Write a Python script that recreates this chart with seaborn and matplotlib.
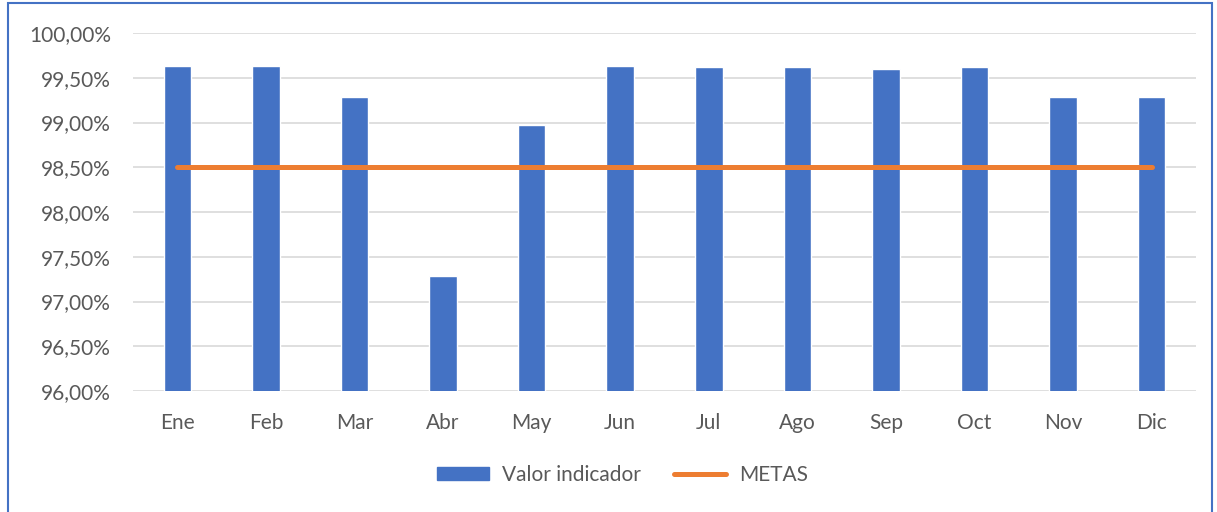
import numpy as np
import pandas as pd
import seaborn as sns
import matplotlib.pyplot as plt
from matplotlib.ticker import FuncFormatter
from matplotlib.patches import Rectangle
from matplotlib.lines import Line2D

months = ['Ene', 'Feb', 'Mar', 'Abr', 'May', 'Jun', 'Jul', 'Ago', 'Sep', 'Oct', 'Nov', 'Dic']
valor = [99.63, 99.63, 99.28, 97.29, 98.97, 99.63, 99.62, 99.62, 99.60, 99.62, 99.28, 99.285]
metas = [98.5] * 12
yticks = [96.0, 96.5, 97.0, 97.5, 98.0, 98.5, 99.0, 99.5, 100.0]

sns.set_style('white')
plt.rcParams['font.family'] = ['Lato', 'DejaVu Sans']
grey = '#595959'
blue = '#4472C4'
orange = '#ED7D31'

df = pd.DataFrame({'mes': months, 'valor': valor})

fig = plt.figure(figsize=(12.17, 5.12), dpi=100)
ax = fig.add_axes([133 / 1217, 1 - 391 / 512, (1196 - 133) / 1217, (391 - 33) / 512])

sns.barplot(data=df, x='mes', y='valor', color=blue, width=0.31, saturation=1, ax=ax, zorder=2)
sns.lineplot(x=np.arange(len(months)), y=metas, color=orange, linewidth=3.6,
             solid_capstyle='round', ax=ax, zorder=3)

ax.set_ylim(96, 100)
ax.set_xlim(-0.5, len(months) - 0.5)
ax.set_yticks(yticks)
ax.yaxis.set_major_formatter(FuncFormatter(lambda v, p: f'{v:.2f}%'.replace('.', ',')))
ax.grid(axis='y', color='#d9d9d9', linewidth=1.2, zorder=0)
ax.set_axisbelow(True)
for s in ax.spines.values():
    s.set_visible(False)
ax.tick_params(axis='both', length=0, labelsize=15, colors=grey)
ax.tick_params(axis='y', pad=16)
ax.tick_params(axis='x', pad=16)
ax.set_xlabel('')
ax.set_ylabel('')

handles = [Rectangle((0, 0), 1, 1, color=blue),
           Line2D([0], [0], color=orange, linewidth=3.6, solid_capstyle='round')]
fig.legend(handles, ['Valor indicador', 'METAS'], loc='center', bbox_to_anchor=(0.5115, 1 - 475 / 512),
           ncol=2, frameon=False, fontsize=15, labelcolor=grey, handlelength=2.5,
           handleheight=0.6, columnspacing=1.6, handletextpad=0.6)

fig.add_artist(Rectangle((8 / 1217, -0.05), (1212 - 8) / 1217, 1.05 - 3 / 512,
                         transform=fig.transFigure, fill=False, edgecolor='#4472C4', linewidth=1.5))

fig.savefig('out.png', dpi=100)
